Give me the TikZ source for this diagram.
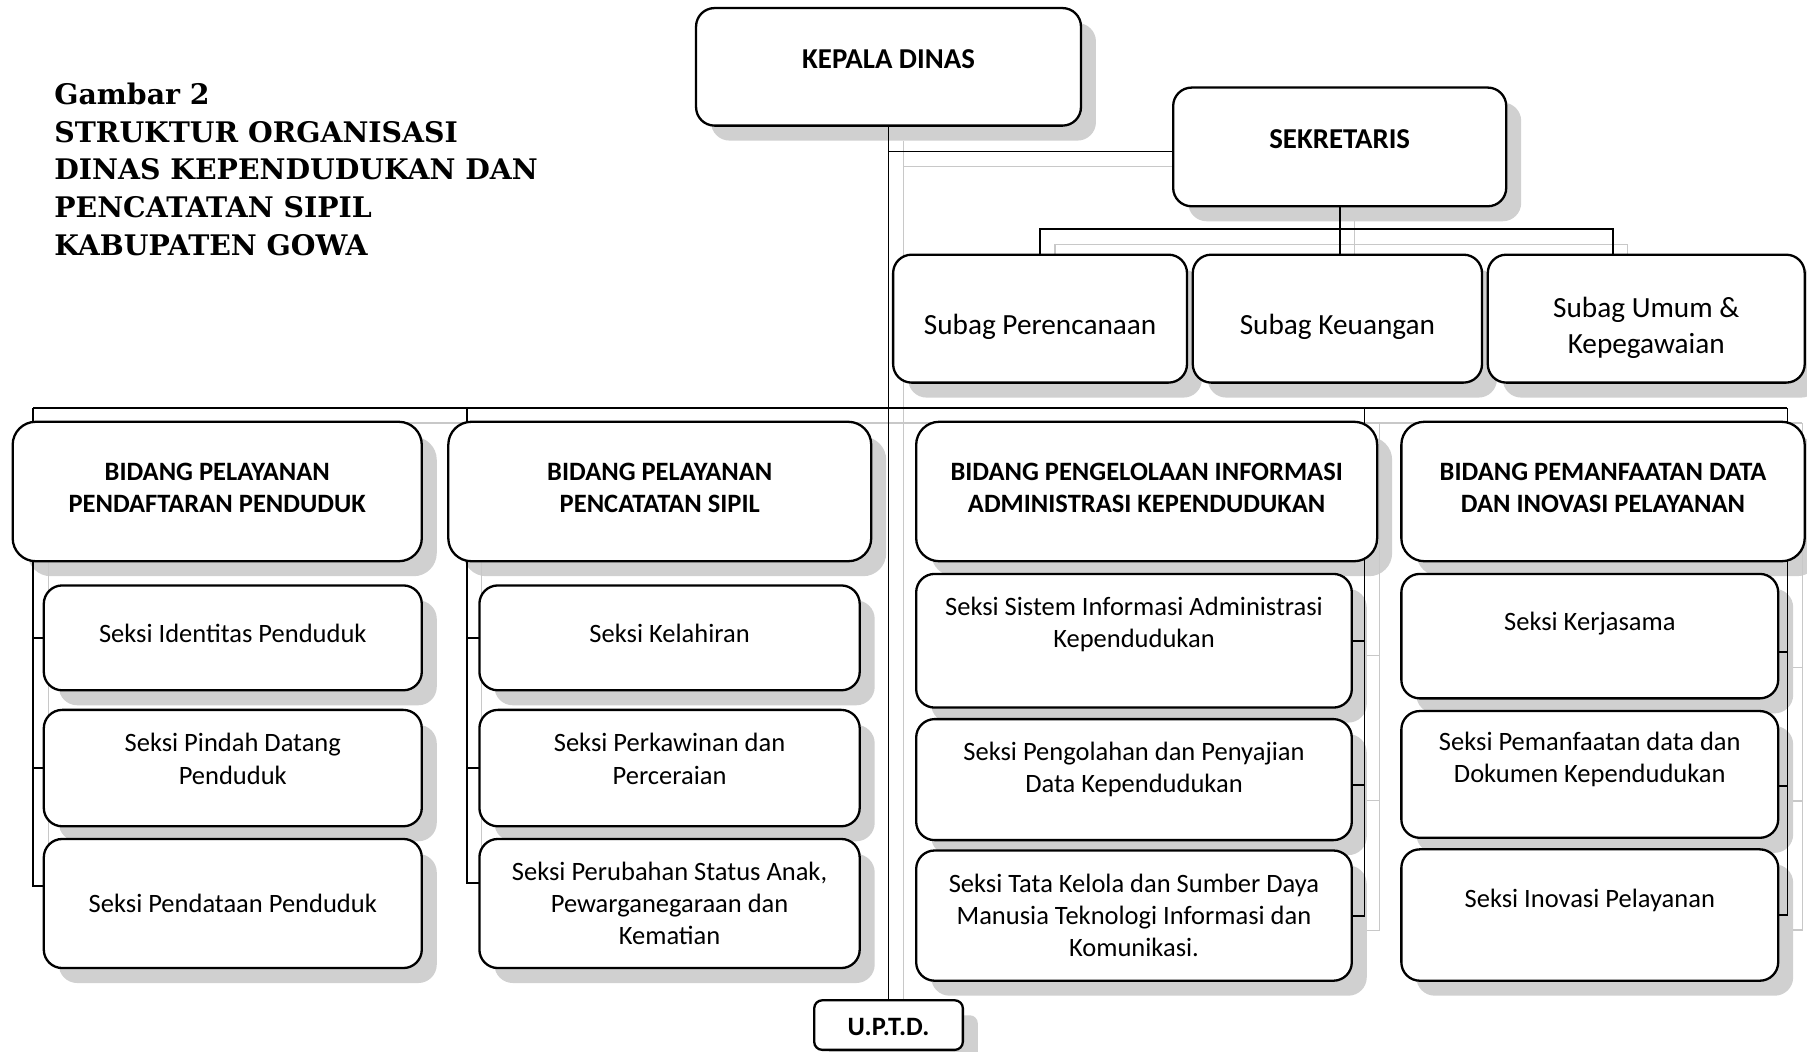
\documentclass[tikz,border=0pt]{standalone}
\usepackage{fontspec}
\setmainfont{Carlito}
\newfontfamily\titlefont{DejaVu Serif}
\pgfdeclarelayer{shadow}
\pgfdeclarelayer{lines}
\pgfsetlayers{shadow,lines,main}

\definecolor{shadowgray}{RGB}{208,208,208}
\definecolor{linegray}{RGB}{200,200,200}

\tikzset{
  box/.style={draw, line width=2pt, fill=white, rounded corners=16pt, outer sep=0pt},
  seksi/.style={font=\fontsize{23}{28}\selectfont, align=center, inner sep=0pt},
  subag/.style={font=\fontsize{25.4}{31}\selectfont, align=center, inner sep=0pt},
  bidang/.style={font=\bfseries\fontsize{23}{28}\selectfont, align=center, inner sep=0pt},
  head/.style={font=\bfseries\fontsize{25}{30}\selectfont, align=center, inner sep=0pt},
  conn/.style={line width=1.6pt},
}

% connectors of the chart, used twice (shadow and line)
\newcommand{\orglines}{%
  \draw (kd.south) -- (uptd.north);
  \draw ([yshift=-4pt]sek.west) -| (kd.south);
  \draw (sek.south) -- (sek.south |- sub2.north);
  \draw (sub1.north) |- (u3 |- sbar) -- (u3);
  \draw (d1) -- (d4);
  \foreach \n in {s1,s2} \draw (\n.west) -| (d1);
  \draw ([yshift=15pt]s3.west) -| (d1);
  \foreach \n in {s4,s5} \draw (\n.west) -| (d2);
  \draw ([yshift=18pt]s6.west) -| (d2);
  \draw (s7.east) -| (d3);
  \draw ([yshift=-5pt]s8.east) -| (d3);
  \draw (s9.east) -| (d3);
  \draw ([yshift=-14pt]s10.east) -| (d4);
  \draw ([yshift=-10pt]s11.east) -| (d4);
  \draw (s12.east) -| (d4);
}

\begin{document}
\begin{tikzpicture}[x=1pt, y=-1pt]
	\useasboundingbox (0,0) rectangle (1568,912);

	% title
	\node[anchor=north west, align=left, inner sep=0pt,
	      font=\titlefont\bfseries\fontsize{24.6}{32.6}\selectfont] (title) at (47,72)
	      {Gambar 2\\STRUKTUR ORGANISASI\\DINAS KEPENDUDUKAN DAN\\PENCATATAN SIPIL\\KABUPATEN GOWA};

	% top
	\node[box, minimum width=334pt, minimum height=102pt,
	      label={[head, yshift=7pt]center:KEPALA DINAS}] (kd) at (771,58) {};
	\node[box, minimum width=289pt, minimum height=103pt,
	      label={[head, yshift=7pt]center:SEKRETARIS}] (sek) at (1162.5,127.5) {};

	% subag
	\node[box, minimum width=255pt, minimum height=111pt,
	      label={[subag, yshift=-7pt]center:Subag Perencanaan}] (sub1) at (902.5,276.5) {};
	\node[box, minimum width=251pt, minimum height=111pt,
	      label={[subag, yshift=-7pt]center:Subag Keuangan}] (sub2) at (1160.5,276.5) {};
	\node[box, minimum width=275pt, minimum height=111pt,
	      label={[subag, yshift=-8pt]center:{Subag Umum \&\\Kepegawaian}}] (sub3) at (1428.5,276.5) {};

	% bidang
	\node[box, minimum width=355pt, minimum height=121pt, rounded corners=20pt,
	      label={[bidang, yshift=3pt]center:{BIDANG PELAYANAN\\PENDAFTARAN PENDUDUK}}] (b1) at (188.5,426.5) {};
	\node[box, minimum width=367pt, minimum height=121pt, rounded corners=20pt,
	      label={[bidang, yshift=3pt]center:{BIDANG PELAYANAN\\PENCATATAN SIPIL}}] (b2) at (572.5,426.5) {};
	\node[box, minimum width=400pt, minimum height=121pt, rounded corners=20pt,
	      label={[bidang, yshift=3pt]center:{BIDANG PENGELOLAAN INFORMASI\\ADMINISTRASI KEPENDUDUKAN}}] (b3) at (995,426.5) {};
	\node[box, minimum width=350pt, minimum height=121pt, rounded corners=20pt,
	      label={[bidang, yshift=3pt]center:{BIDANG PEMANFAATAN DATA\\DAN INOVASI PELAYANAN}}] (b4) at (1391,426.5) {};

	% seksi
	\node[box, minimum width=328pt, minimum height=91pt,
	      label={[seksi, yshift=4pt]center:Seksi Identitas Penduduk}] (s1) at (202,553.5) {};
	\node[box, minimum width=328pt, minimum height=101pt,
	      label={[seksi, yshift=8pt]center:{Seksi Pindah Datang\\Penduduk}}] (s2) at (202,666.5) {};
	\node[box, minimum width=328pt, minimum height=112pt,
	      label={[seksi]center:Seksi Pendataan Penduduk}] (s3) at (202,784) {};

	\node[box, minimum width=330pt, minimum height=91pt,
	      label={[seksi, yshift=4pt]center:Seksi Kelahiran}] (s4) at (581,553.5) {};
	\node[box, minimum width=330pt, minimum height=101pt,
	      label={[seksi, yshift=8pt]center:{Seksi Perkawinan dan\\Perceraian}}] (s5) at (581,666.5) {};
	\node[box, minimum width=330pt, minimum height=112pt,
	      label={[seksi]center:{Seksi Perubahan Status Anak,\\Pewarganegaraan dan\\Kematian}}] (s6) at (581,784) {};

	\node[box, minimum width=378pt, minimum height=116pt,
	      label={[seksi, yshift=14pt]center:{Seksi Sistem Informasi Administrasi\\Kependudukan}}] (s7) at (984,556) {};
	\node[box, minimum width=378pt, minimum height=105pt,
	      label={[seksi, yshift=9pt]center:{Seksi Pengolahan dan Penyajian\\Data Kependudukan}}] (s8) at (984,676.5) {};
	\node[box, minimum width=378pt, minimum height=113pt,
	      label={[seksi]center:{Seksi Tata Kelola dan Sumber Daya\\Manusia Teknologi Informasi dan\\Komunikasi.}}] (s9) at (984,794.5) {};

	\node[box, minimum width=327pt, minimum height=108pt,
	      label={[seksi, yshift=11pt]center:Seksi Kerjasama}] (s10) at (1379.5,552) {};
	\node[box, minimum width=327pt, minimum height=110pt,
	      label={[seksi, yshift=13pt]center:{Seksi Pemanfaatan data dan\\Dokumen Kependudukan}}] (s11) at (1379.5,672) {};
	\node[box, minimum width=327pt, minimum height=114pt,
	      label={[seksi, yshift=13pt]center:Seksi Inovasi Pelayanan}] (s12) at (1379.5,794) {};

	\node[box, minimum width=129pt, minimum height=43pt, rounded corners=7pt,
	      label={[bidang, yshift=-2pt]center:U.P.T.D.}] (uptd) at (771,889.5) {};

	% bars
	\coordinate (sbar) at (0,199);
	\coordinate (u3) at ([xshift=-29pt]sub3.north);
	\coordinate (d1) at (29,354);
	\coordinate (d2) at (405,354);
	\coordinate (d3) at (1184,354);
	\coordinate (d4) at (1551,354);

	% shadows
	\begin{pgfonlayer}{shadow}
		\foreach \n in {kd,sek,sub1,sub2,sub3,s1,s2,s3,s4,s5,s6,s7,s8,s9,s10,s11,s12}
			\fill[shadowgray, rounded corners=16pt] ([shift={(13,13)}]\n.north west) rectangle ([shift={(13,13)}]\n.south east);
		\foreach \n in {b1,b2,b3,b4}
			\fill[shadowgray, rounded corners=20pt] ([shift={(13,13)}]\n.north west) rectangle ([shift={(13,13)}]\n.south east);
		\fill[shadowgray, rounded corners=7pt] ([shift={(13,13)}]uptd.north west) rectangle ([shift={(13,13)}]uptd.south east);
		\begin{scope}[transform canvas={shift={(13,13)}}, linegray, line width=1pt]
			\orglines
		\end{scope}
	\end{pgfonlayer}

	% lines
	\begin{pgfonlayer}{lines}
		\begin{scope}[conn]
			\orglines
		\end{scope}
	\end{pgfonlayer}
\end{tikzpicture}
\end{document}
